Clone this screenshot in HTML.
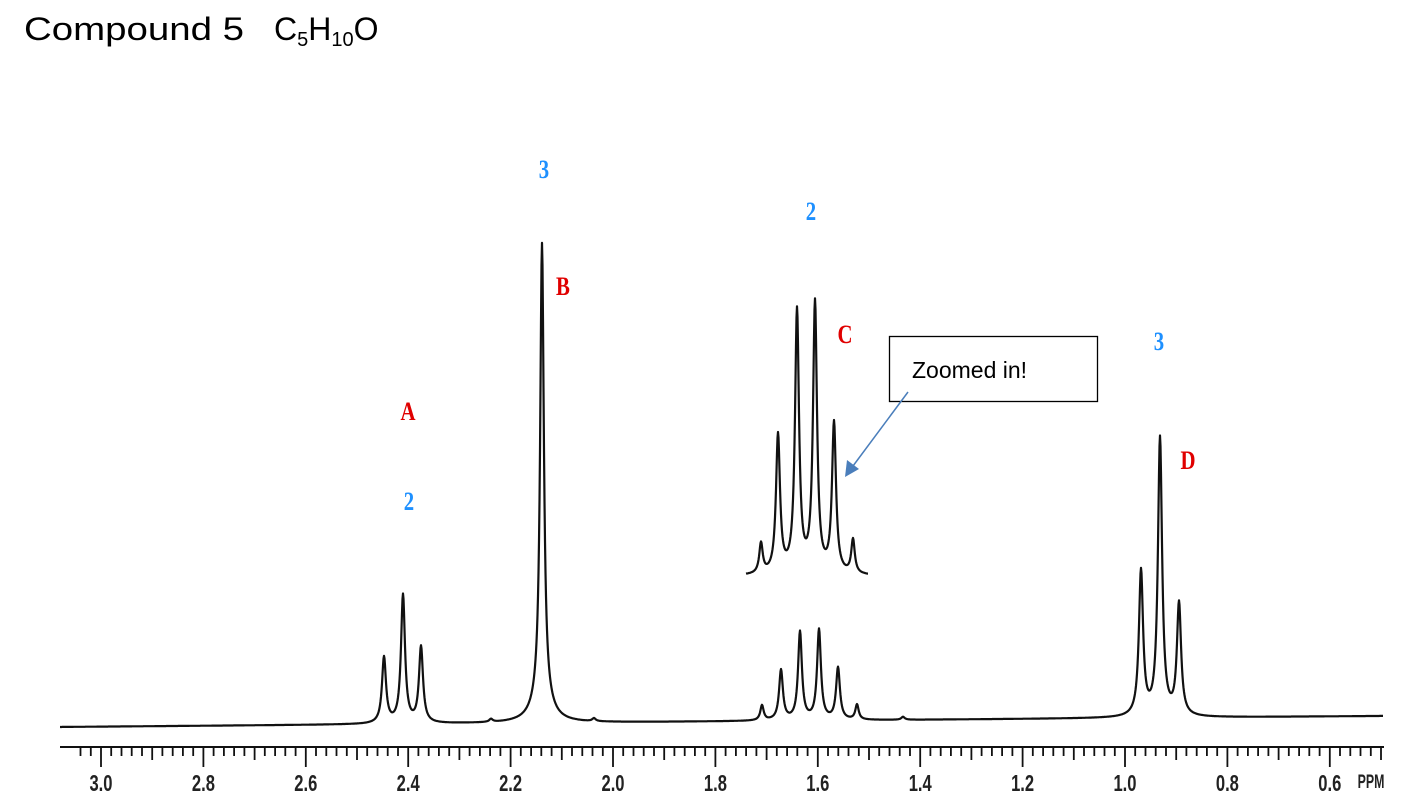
<!DOCTYPE html>
<html><head><meta charset="utf-8"><style>
html,body{margin:0;padding:0;background:#fff;}
svg{display:block}
.lab{font-family:"Liberation Serif",serif;font-weight:bold;font-size:26px}
.ax{font-family:"Liberation Sans",sans-serif;font-weight:bold;font-size:23px}
</style></head><body>
<svg id="s" width="1415" height="811" viewBox="0 0 1415 811" xmlns="http://www.w3.org/2000/svg">
<text x="24" y="40" font-family="Liberation Sans, sans-serif" font-size="32" textLength="220" lengthAdjust="spacingAndGlyphs">Compound 5</text>
<text x="274" y="40" font-family="Liberation Sans, sans-serif" font-size="32">C<tspan font-size="20" dy="6">5</tspan><tspan dy="-6">H</tspan><tspan font-size="20" dy="6">10</tspan><tspan dy="-6">O</tspan></text>
<g class="lab" text-anchor="middle">
<text x="544" y="178" fill="#1e90ff" transform="translate(544,0) scale(0.8,1) translate(-544,0)">3</text>
<text x="563" y="295" fill="#e00000" transform="translate(563,0) scale(0.8,1) translate(-563,0)">B</text>
<text x="811" y="220" fill="#1e90ff" transform="translate(811,0) scale(0.8,1) translate(-811,0)">2</text>
<text x="845" y="343" fill="#e00000" transform="translate(845,0) scale(0.8,1) translate(-845,0)">C</text>
<text x="1159" y="350" fill="#1e90ff" transform="translate(1159,0) scale(0.8,1) translate(-1159,0)">3</text>
<text x="1188" y="469" fill="#e00000" transform="translate(1188,0) scale(0.8,1) translate(-1188,0)">D</text>
<text x="408" y="420" fill="#e00000" transform="translate(408,0) scale(0.8,1) translate(-408,0)">A</text>
<text x="409" y="510" fill="#1e90ff" transform="translate(409,0) scale(0.8,1) translate(-409,0)">2</text>
</g>
<rect x="889.5" y="336.5" width="208" height="65" fill="#fff" stroke="#000" stroke-width="1.3"/>
<text x="912" y="378" font-family="Liberation Sans, sans-serif" font-size="23">Zoomed in!</text>
<line x1="908" y1="392" x2="853" y2="466" stroke="#4a7ebb" stroke-width="1.5"/>
<polygon points="845,477 847,460 859,469" fill="#4a7ebb"/>
<g id="spec" fill="none" stroke="#111" stroke-width="2.2" stroke-linejoin="round"></g>
<g id="axis" stroke="#111"></g>
<g id="labels" class="ax" text-anchor="middle" fill="#222"></g>
</svg>
<script>
function lor(x,c,h,w){return h*w*w/((x-c)*(x-c)+w*w);}
var main=[[384,66,2.4],[403,128,2.4],[421,76,2.4],[542,455,2.2],[542,25,9],[762,15,2],[781,50,2.3],[800,88,2.3],[819,90,2.3],[838,52,2.3],[857,15,2],[1141,145,2.5],[1160,278,2.5],[1179,112,2.5],[491,3,2],[594,3,2],[903,3,2]];
var d="";
for(var x=60;x<=1383;x+=0.5){var b=727-(x-60)*11/1323;var y=b;for(var i=0;i<main.length;i++){var p=main[i];y-=lor(x,p[0],p[1],p[2]);}d+=(x==60?"M":"L")+x.toFixed(1)+","+y.toFixed(1);}
var ins=[[761,30,2.1],[778,138,2.4],[797,262,2.4],[815,270,2.4],[834,150,2.4],[853,34,2.1]];
var d2="";
for(var x=746;x<=868;x+=0.5){var y=576;for(var i=0;i<ins.length;i++){var p=ins[i];y-=lor(x,p[0],p[1],p[2]);}d2+=(x==746?"M":"L")+x.toFixed(1)+","+y.toFixed(1);}
var g=document.getElementById("spec");
g.innerHTML='<path d="'+d+'"/><path d="'+d2+'"/>';
var a="<line x1='60' y1='747' x2='1384' y2='747' stroke-width='2'/>";
for(var k=-2;k<=125;k++){var x=101+k*512*0.02;if(x<60||x>1384)continue;var len=(k%10==0)?20:(k%5==0?13:9);a+="<line x1='"+x.toFixed(1)+"' y1='747' x2='"+x.toFixed(1)+"' y2='"+(747+len)+"' stroke-width='1.8'/>";}
document.getElementById("axis").innerHTML=a;
var L="",v=["3.0","2.8","2.6","2.4","2.2","2.0","1.8","1.6","1.4","1.2","1.0","0.8","0.6"];
for(var i=0;i<v.length;i++){var x=101+i*102.4;L+="<text x='"+x+"' y='791' transform='translate("+x+",0) scale(0.72,1) translate("+(-x)+",0)'>"+v[i]+"</text>";}
L+="<text x='1371' y='788' style='font-size:19px' transform='translate(1371,0) scale(0.65,1) translate(-1371,0)'>PPM</text>";
document.getElementById("labels").innerHTML=L;
</script>
</body></html>
